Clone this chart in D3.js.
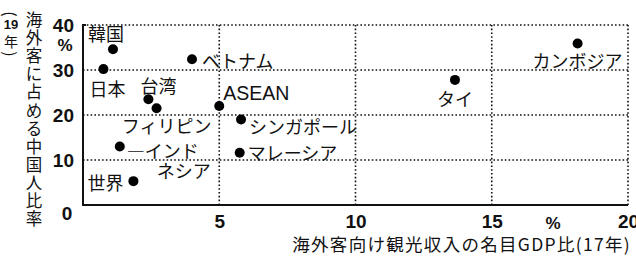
<!DOCTYPE html>
<html>
<head>
<meta charset="utf-8">
<script src="https://cdn.jsdelivr.net/npm/d3@7"></script>
<style>
  body { margin: 0; background: #fff; }
  svg { display: block; }
  text { font-family: "Noto Sans CJK JP", sans-serif; fill: #111; }
  .tick text, .num, .latin { font-family: "Liberation Sans", Arial, sans-serif; font-weight: bold; }
  .latin { font-weight: normal; }
</style>
</head>
<body>
<div id="chart"><svg></svg></div>
<script>
// data
const countries = ["韓国", "日本", "ベトナム", "台湾", "フィリピン", "ASEAN", "シンガポール", "マレーシア", "インドネシア", "世界", "タイ", "カンボジア"];
// tourism receipts from foreign visitors, % of nominal GDP (2017)
const tourismGdp = [1.1, 0.75, 4.0, 2.4, 2.7, 5.0, 5.8, 5.75, 1.35, 1.85, 13.65, 18.15];
// share of Chinese among foreign visitors, % (2019)
const chineseShare = [34.6, 30.2, 32.4, 23.5, 21.5, 22.0, 19.0, 11.6, 13.0, 5.3, 27.8, 35.9];
const xTicks = [5, 10, 15, 20];
const yTicks = [10, 20, 30, 40];
const yTitle = "海外客に占める中国人比率";
const xTitle = "海外客向け観光収入の名目GDP比(17年)";

// label placement: [text lines, anchor, dx, dy]
const labelLayout = [
  [["韓国"], "start", -25, -16],
  [["日本"], "middle", 4, 19],
  [["ベトナム"], "start", 10, 1],
  [["台湾"], "middle", 10, -14],
  [["フィリピン"], "middle", 10, 17],
  [["ASEAN"], "start", 4, -13],
  [["シンガポール"], "start", 8, 6],
  [["マレーシア"], "start", 8, -1],
  [["―インド", "ネシア"], "start", 7, 3],
  [["世界"], "end", -10, 1],
  [["タイ"], "middle", 0, 18],
  [["カンボジア"], "middle", 0, 17]
];

let width = 636, height = 259;
let svg = d3.select("#chart").select("svg")
  .attr("width", width).attr("height", height);

let x = d3.scaleLinear().domain([0, 20]).range([83, 628]);
let y = d3.scaleLinear().domain([0, 40]).range([205, 25]);

// dotted grid (top and right edges included)
svg.append("g").selectAll("line")
  .data(yTicks)
  .join("line")
  .attr("x1", x(0)).attr("x2", x(20))
  .attr("y1", d => y(d)).attr("y2", d => y(d))
  .attr("stroke", "#111").attr("stroke-width", 1.6)
  .attr("stroke-dasharray", "1.6,2.2");

svg.append("g").selectAll("line")
  .data(xTicks)
  .join("line")
  .attr("x1", d => x(d)).attr("x2", d => x(d))
  .attr("y1", y(0)).attr("y2", y(40))
  .attr("stroke", "#111").attr("stroke-width", 1.6)
  .attr("stroke-dasharray", "1.6,2.2");

// solid left & bottom axes
svg.append("path")
  .attr("d", `M${x(0) + 3},${y(40)}H${x(0)}V${y(0)}H${x(20)}`)
  .attr("fill", "none").attr("stroke", "#111").attr("stroke-width", 2);

// axis tick labels
let yAxis = d3.axisLeft(y).tickValues(yTicks).tickSize(0).tickPadding(9);
svg.append("g").attr("transform", `translate(${x(0)},0)`).call(yAxis)
  .call(g => g.select(".domain").remove())
  .selectAll("text").attr("font-size", 19).attr("fill", "#111");

let xAxis = d3.axisBottom(x).tickValues(xTicks).tickSize(0).tickPadding(10);
svg.append("g").attr("transform", `translate(0,${y(0)})`).call(xAxis)
  .call(g => g.select(".domain").remove())
  .selectAll("text").attr("font-size", 19).attr("fill", "#111");

svg.append("text").attr("class", "num")
  .attr("x", 67).attr("y", 220).attr("text-anchor", "middle")
  .attr("font-size", 19).text("0");
svg.append("text").attr("class", "num")
  .attr("x", 65).attr("y", 51).attr("text-anchor", "middle")
  .attr("font-size", 17).text("%");
svg.append("text").attr("class", "num")
  .attr("x", 553).attr("y", 229).attr("text-anchor", "middle")
  .attr("font-size", 17).text("%");

// axis titles
svg.append("text")
  .attr("x", 631).attr("y", 251).attr("text-anchor", "end")
  .attr("font-size", 17.5).attr("letter-spacing", 1.3).text(xTitle);

svg.append("g").selectAll("text")
  .data(yTitle.split(""))
  .join("text")
  .attr("x", 34).attr("y", (d, i) => 19 + i * 18.1)
  .attr("text-anchor", "middle").attr("dominant-baseline", "central")
  .attr("font-size", 16.5).text(d => d);

let yr = svg.append("g").attr("font-size", 16);
yr.append("text").attr("transform", "translate(11,14) rotate(90)")
  .attr("text-anchor", "middle").attr("dominant-baseline", "central").text("(");
yr.append("text").attr("class", "num").attr("x", 11).attr("y", 24)
  .attr("text-anchor", "middle").attr("dominant-baseline", "central")
  .attr("font-size", 13).text("19");
yr.append("text").attr("x", 11).attr("y", 41)
  .attr("font-size", 14)
  .attr("text-anchor", "middle").attr("dominant-baseline", "central").text("年");
yr.append("text").attr("transform", "translate(11,54) rotate(90)")
  .attr("text-anchor", "middle").attr("dominant-baseline", "central").text(")");

// points
let pts = countries.map((c, i) => ({ name: c, gx: tourismGdp[i], sh: chineseShare[i], lab: labelLayout[i] }));

svg.append("g").selectAll("circle")
  .data(pts)
  .join("circle")
  .attr("cx", d => x(d.gx)).attr("cy", d => y(d.sh))
  .attr("r", 5).attr("fill", "#000");

let labels = svg.append("g").selectAll("text")
  .data(pts)
  .join("text")
  .attr("class", d => /^[A-Z]+$/.test(d.name) ? "latin" : null)
  .attr("x", d => x(d.gx) + d.lab[2])
  .attr("y", d => y(d.sh) + d.lab[3])
  .attr("text-anchor", d => d.lab[1])
  .attr("dominant-baseline", "central")
  .attr("font-size", d => /^[A-Z]+$/.test(d.name) ? 19.5 : 18);

labels.selectAll("tspan")
  .data(d => d.lab[0].map((t, k) => ({ t, k, d })))
  .join("tspan")
  .attr("x", e => x(e.d.gx) + e.d.lab[2] + (e.k ? 30 : 0))
  .attr("dy", e => e.k ? 20 : 0)
  .text(e => e.t);
</script>
</body>
</html>
